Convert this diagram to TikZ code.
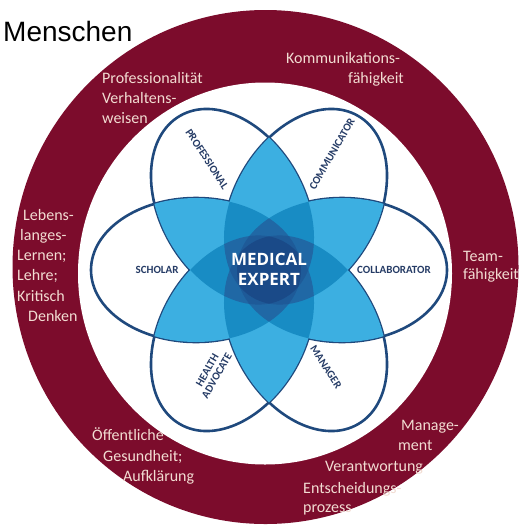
\documentclass[tikz,border=0pt]{standalone}
\usepackage{fontspec}
\setmainfont{Carlito}
\newfontfamily\arialf{Liberation Sans}
\newfontfamily\opensans{Open Sans}
\definecolor{ringred}{RGB}{124,12,44}
\definecolor{ringtext}{RGB}{242,220,210}
\definecolor{navy}{RGB}{31,73,125}
\definecolor{labelblue}{RGB}{38,60,102}
\definecolor{ctwo}{RGB}{60,175,225}
\definecolor{cthree}{RGB}{24,140,196}
\definecolor{cfour}{RGB}{32,104,165}
\definecolor{cfive}{RGB}{30,90,152}
\definecolor{csix}{RGB}{26,74,136}
\newcommand\petalpath{(73,0) ellipse [x radius=105pt,y radius=72pt]}
\begin{document}
\begin{tikzpicture}[x=1pt,y=-1pt,
  E/.style={shift={(269,270)},rotate=#1},
  ringtxt/.style={text=ringtext,font=\fontsize{16}{16}\selectfont,inner sep=0pt,anchor=base west},
  petal/.style={text=labelblue,font=\fontsize{11}{12}\selectfont\bfseries,inner sep=0pt,align=center},
  medtxt/.style={text=white,font=\opensans\fontsize{17}{20}\selectfont\bfseries,inner sep=0pt,anchor=base},
]
\useasboundingbox[fill=white] (0,0) rectangle (526,525);
% ring
\fill[ringred] (265.5,267) ellipse [x radius=253pt,y radius=257pt];
\fill[white] (265,273.5) ellipse [x radius=187pt,y radius=191pt];
% petals
\foreach \t in {0,60,...,300} \fill[white,E=\t] (73,0) ellipse [x radius=105pt,y radius=72pt];
\foreach \t in {0,60,...,300} \draw[navy,line width=2.6pt,E=\t] (73,0) ellipse [x radius=105pt,y radius=72pt];
% overlaps of two
\foreach \ta/\tb in {0/60,0/120,0/180,0/240,0/300,60/120,60/180,60/240,60/300,120/180,120/240,120/300,180/240,180/300,240/300}{
  \begin{scope}
  \clip[E=\ta] (73,0) ellipse [x radius=105pt,y radius=72pt];
  \fill[ctwo,E=\tb] (73,0) ellipse [x radius=105pt,y radius=72pt];
  \end{scope}}
% overlaps of three
\foreach \ta/\tb/\tc in {0/60/120,0/60/180,0/60/240,0/60/300,0/120/180,0/120/240,0/120/300,0/180/240,0/180/300,0/240/300,60/120/180,60/120/240,60/120/300,60/180/240,60/180/300,60/240/300,120/180/240,120/180/300,120/240/300,180/240/300}{
  \begin{scope}
  \clip[E=\ta] (73,0) ellipse [x radius=105pt,y radius=72pt];
  \clip[E=\tb] (73,0) ellipse [x radius=105pt,y radius=72pt];
  \fill[cthree,E=\tc] (73,0) ellipse [x radius=105pt,y radius=72pt];
  \end{scope}}
% overlaps of four
\foreach \ta/\tb/\tc/\td in {120/180/240/300,60/180/240/300,60/120/240/300,60/120/180/300,60/120/180/240,0/180/240/300,0/120/240/300,0/120/180/300,0/120/180/240,0/60/240/300,0/60/180/300,0/60/180/240,0/60/120/300,0/60/120/240,0/60/120/180}{
  \begin{scope}
  \clip[E=\ta] (73,0) ellipse [x radius=105pt,y radius=72pt];
  \clip[E=\tb] (73,0) ellipse [x radius=105pt,y radius=72pt];
  \clip[E=\tc] (73,0) ellipse [x radius=105pt,y radius=72pt];
  \fill[cfour,E=\td] (73,0) ellipse [x radius=105pt,y radius=72pt];
  \end{scope}}
% overlaps of five
\foreach \ta/\tb/\tc/\td/\te in {60/120/180/240/300,0/120/180/240/300,0/60/180/240/300,0/60/120/240/300,0/60/120/180/300,0/60/120/180/240}{
  \begin{scope}
  \clip[E=\ta] (73,0) ellipse [x radius=105pt,y radius=72pt];
  \clip[E=\tb] (73,0) ellipse [x radius=105pt,y radius=72pt];
  \clip[E=\tc] (73,0) ellipse [x radius=105pt,y radius=72pt];
  \clip[E=\td] (73,0) ellipse [x radius=105pt,y radius=72pt];
  \fill[cfive,E=\te] (73,0) ellipse [x radius=105pt,y radius=72pt];
  \end{scope}}
% all six
\begin{scope}
  \foreach \t in {0,60,120,180,240} \clip[E=\t] (73,0) ellipse [x radius=105pt,y radius=72pt];
  \fill[csix,E=300] (73,0) ellipse [x radius=105pt,y radius=72pt];
\end{scope}
% centre text
\node[medtxt] (med1) at (269,265) {MEDICAL};
\node[medtxt] (med2) at (269,285) {EXPERT};
% petal labels
\node[petal] (scholar) at (157,270) {SCHOLAR};
\node[petal] (collab) at (394,270) {COLLABORATOR};
\node[petal,rotate=-57] (prof) at (207,159) {PROFESSIONAL};
\node[petal,rotate=60] (comm) at (332,154) {COMMUNICATOR};
\node[petal,rotate=-57] (manager) at (326,367) {MANAGER};
\node[petal,rotate=60,font=\fontsize{11}{11}\selectfont\bfseries] (health) at (212,373) {HEALTH\\ADVOCATE};
% title
\node[font=\arialf\fontsize{28}{28}\selectfont,inner sep=0pt,anchor=base west] (title) at (3,41) {Menschen};
% ring texts
\node[ringtxt] (p1) at (102,83) {Professionalität};
\node[ringtxt] (p2) at (102,103) {Verhaltens-};
\node[ringtxt] (p3) at (102,123) {weisen};
\node[ringtxt] (k1) at (286,63) {Kommunikations-};
\node[ringtxt] (k2) at (348,83) {fähigkeit};
\node[ringtxt] (t1) at (463,261) {Team-};
\node[ringtxt] (t2) at (463,279) {fähigkeit};
\node[ringtxt] (l1) at (23,220) {Lebens-};
\node[ringtxt] (l2) at (20,240) {langes-};
\node[ringtxt] (l3) at (17,260) {Lernen;};
\node[ringtxt] (l4) at (17,280.5) {Lehre;};
\node[ringtxt] (l5) at (17,301) {Kritisch};
\node[ringtxt] (l6) at (28,321) {Denken};
\node[ringtxt] (o1) at (92,440) {Öffentliche};
\node[ringtxt] (o2) at (103,461) {Gesundheit;};
\node[ringtxt] (o3) at (123,481) {Aufklärung};
\node[ringtxt] (m1) at (401,430) {Manage-};
\node[ringtxt] (m2) at (398,450) {ment};
\node[ringtxt] (m3) at (325,471) {Verantwortung};
\node[ringtxt] (m4) at (303,493) {Entscheidungs-};
\node[ringtxt] (m5) at (303,512) {prozess};
\end{tikzpicture}
\end{document}
